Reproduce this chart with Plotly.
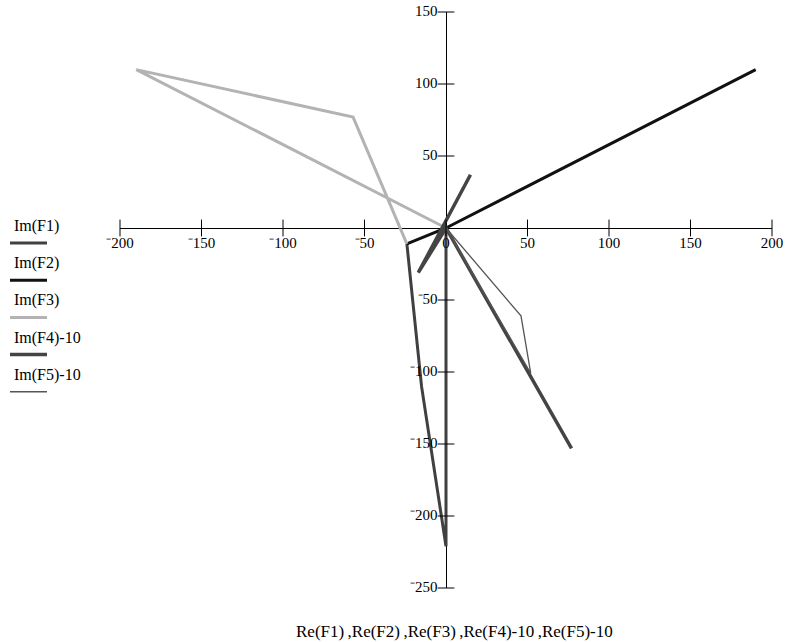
import plotly.graph_objects as go

# curvas (Re, Im)
f1_re = [-24, -15, 0, 0]
f1_im = [-11, -110, -221, 0]

f2_re = [190, 0, -24]
f2_im = [110, 0, -11]

f3_re = [0, -190, -57, -24]
f3_im = [0, 110, 77, -11]

f4_re = [15, -17, 0, 77]
f4_im = [37, -31, 0, -153]

f5_re = [0, 46, 52, 0]
f5_im = [0, -61, -101, 0]

x_ticks = [-200, -150, -100, -50, 0, 50, 100, 150, 200]
y_ticks = [150, 100, 50, -50, -100, -150, -200, -250]

legend_names = ["Im(F1)", "Im(F2)", "Im(F3)", "Im(F4)-10", "Im(F5)-10"]
colors = ["#404040", "#111111", "#b3b3b3", "#444444", "#555555"]
widths = [3, 3, 3, 3.5, 1.3]


def lbl(v):
    # sinal de menos elevado, como no Mathcad
    return ("\u207b" + str(abs(v))) if v < 0 else str(v)


fig = go.Figure()

series = [(f1_re, f1_im), (f2_re, f2_im), (f3_re, f3_im), (f4_re, f4_im), (f5_re, f5_im)]
for (re, im), c, w in zip(series, colors, widths):
    fig.add_trace(go.Scatter(x=re, y=im, mode="lines", line=dict(color=c, width=w),
                             showlegend=False, hoverinfo="skip"))

# marcas dos eixos (estilo cruzado)
fig.add_trace(go.Scatter(
    x=x_ticks, y=[0] * len(x_ticks), mode="markers+text",
    marker=dict(symbol="line-ns-open", size=12, color="black", line=dict(color="black", width=1)),
    text=[lbl(v) for v in x_ticks], textposition="bottom center",
    textfont=dict(family="Liberation Serif", size=15, color="black"),
    cliponaxis=False, showlegend=False, hoverinfo="skip",
))
fig.add_trace(go.Scatter(
    x=[0] * len(y_ticks), y=y_ticks, mode="markers+text",
    marker=dict(symbol="line-ew-open", size=12, color="black", line=dict(color="black", width=1)),
    text=[lbl(v) for v in y_ticks], textposition="middle left",
    textfont=dict(family="Liberation Serif", size=15, color="black"),
    cliponaxis=False, showlegend=False, hoverinfo="skip",
))

left, right, top, bottom = 120, 772, 12, 588
plot_w = right - left
plot_h = bottom - top


def px(p):
    return (p - left) / plot_w


def py(q):
    return (bottom - q) / plot_h


# legenda à esquerda (texto com linha embaixo)
for i, (name, c, w) in enumerate(zip(legend_names, colors, widths)):
    ty = 226 + i * 37.2
    ly = 243 + i * 37.2
    fig.add_annotation(
        x=px(12), y=py(ty), xref="paper", yref="paper",
        text=name, showarrow=False, xanchor="left", yanchor="middle",
        font=dict(family="Liberation Serif", size=16, color="black"),
    )
    fig.add_shape(
        type="line", xref="paper", yref="paper",
        x0=px(10), x1=px(47), y0=py(ly), y1=py(ly),
        line=dict(color=c, width=w if w > 2 else 1.5),
    )

fig.add_annotation(
    x=px(454), y=py(631), xref="paper", yref="paper",
    text="Re(F1)\u2009,Re(F2)\u2009,Re(F3)\u2009,Re(F4)-10\u2009,Re(F5)-10", showarrow=False,
    xanchor="center", yanchor="middle",
    font=dict(family="Liberation Serif", size=17, color="black"),
)

fig.update_xaxes(range=[-200, 200], showgrid=False, showticklabels=False, ticks="",
                 zeroline=True, zerolinecolor="black", zerolinewidth=1)
fig.update_yaxes(range=[-250, 150], showgrid=False, showticklabels=False, ticks="",
                 zeroline=True, zerolinecolor="black", zerolinewidth=1)

fig.update_layout(
    width=789, height=642,
    margin=dict(l=left, r=789 - right, t=top, b=642 - bottom),
    plot_bgcolor="white", paper_bgcolor="white",
    showlegend=False,
)

fig.write_html("out.html", config={"displayModeBar": False},
               post_script="document.body.style.margin='0';")
